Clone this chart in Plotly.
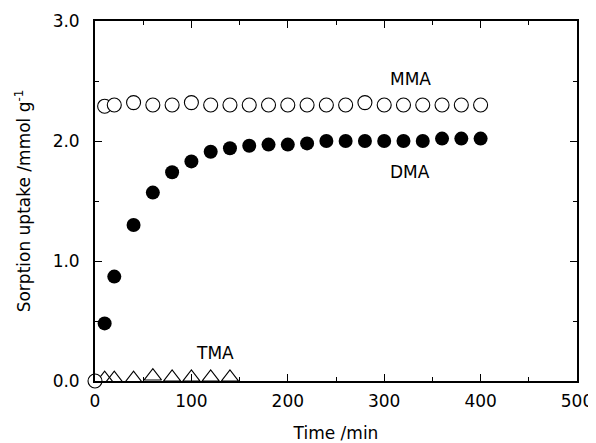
import plotly.graph_objects as go

time_mma = [0, 10, 20, 40, 60, 80, 100, 120, 140, 160, 180, 200, 220, 240, 260, 280, 300, 320, 340, 360, 380, 400]
mma = [0.0, 2.29, 2.30, 2.32, 2.30, 2.30, 2.32, 2.30, 2.30, 2.30, 2.30, 2.30, 2.30, 2.30, 2.30, 2.32, 2.30, 2.30, 2.30, 2.30, 2.30, 2.30]

time_dma = [10, 20, 40, 60, 80, 100, 120, 140, 160, 180, 200, 220, 240, 260, 280, 300, 320, 340, 360, 380, 400]
dma = [0.48, 0.87, 1.30, 1.57, 1.74, 1.83, 1.91, 1.94, 1.96, 1.97, 1.97, 1.98, 2.00, 2.00, 2.00, 2.00, 2.00, 2.00, 2.02, 2.02, 2.02]

time_tma = [10, 20, 40, 60, 80, 100, 120, 140]
tma = [0.02, 0.02, 0.02, 0.04, 0.03, 0.03, 0.03, 0.03]

labels = ["MMA", "DMA", "TMA"]
label_x = [327, 327, 124]
label_y = [2.52, 1.74, 0.23]

x_ticks = [0, 100, 200, 300, 400, 500]
y_ticks = [0.0, 1.0, 2.0, 3.0]

FONT = "DejaVu Sans, Liberation Sans, Arial, sans-serif"

fig = go.Figure()
fig.add_trace(go.Scatter(x=time_tma, y=tma, mode="markers",
                         marker=dict(symbol="triangle-up-open", size=15, color="black", line=dict(width=1.1)),
                         cliponaxis=False, showlegend=False))
fig.add_trace(go.Scatter(x=time_dma, y=dma, mode="markers",
                         marker=dict(symbol="circle", size=14, color="black"),
                         cliponaxis=False, showlegend=False))
fig.add_trace(go.Scatter(x=time_mma, y=mma, mode="markers",
                         marker=dict(symbol="circle", size=14, color="white", line=dict(color="black", width=1.1)),
                         cliponaxis=False, showlegend=False))

for t, lx, ly in zip(labels, label_x, label_y):
    fig.add_annotation(x=lx, y=ly, text=t, showarrow=False,
                       font=dict(family=FONT, size=17, color="black"))

axis_common = dict(
    showgrid=False, zeroline=False, showline=True, linecolor="black", linewidth=1.8,
    mirror="allticks", ticks="inside", ticklen=7, tickwidth=1.4, tickcolor="black",
    tickfont=dict(family=FONT, size=17, color="black"), automargin=False,
)

fig.update_xaxes(range=[0, 500], tickvals=x_ticks, ticktext=[str(v) for v in x_ticks],
                 minor=dict(ticks="inside", dtick=50, ticklen=4, tickwidth=1.2, tickcolor="black"),
                 ticklabelstandoff=4,
                 title=dict(text="Time /min", standoff=20,
                            font=dict(family=FONT, size=17, color="black")),
                 **axis_common)
fig.update_yaxes(range=[0, 3.0], tickvals=y_ticks, ticktext=[f"{v:.1f}" for v in y_ticks],
                 minor=dict(ticks="inside", dtick=0.5, ticklen=4, tickwidth=1.2, tickcolor="black"),
                 ticklabelstandoff=10,
                 title=dict(text="Sorption uptake /mmol g<sup>-1</sup>", standoff=18,
                            font=dict(family=FONT, size=17, color="black")),
                 **axis_common)

fig.update_layout(width=588, height=435, margin=dict(l=87, r=19, t=13, b=62),
                  plot_bgcolor="white", paper_bgcolor="white")

fig.write_html("out.html")
